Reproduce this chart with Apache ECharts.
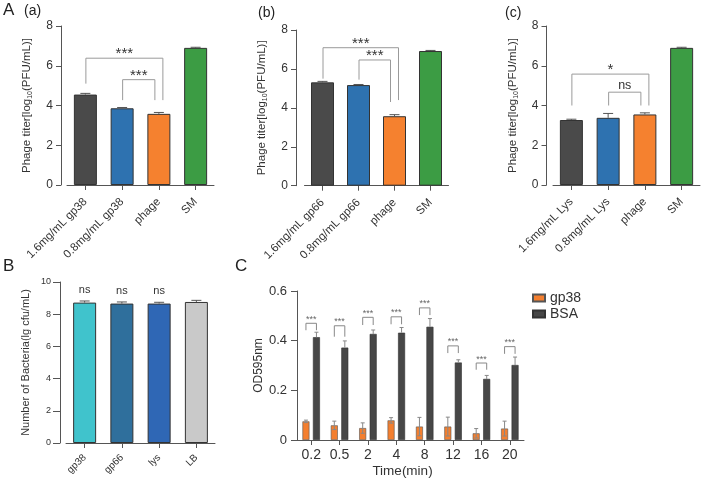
<!DOCTYPE html>
<html>
<head>
<meta charset="utf-8">
<script src="https://cdn.jsdelivr.net/npm/echarts@6/dist/echarts.min.js"></script>
<style>
  html, body { margin: 0; padding: 0; background: #fff; }
  #chart { width: 708px; height: 479px; }
</style>
</head>
<body>
<div id="chart"></div>
<script>
// ---- data ----
var catsA1 = ['1.6mg/mL gp38', '0.8mg/mL gp38', 'phage', 'SM'];
var catsA2 = ['1.6mg/mL gp66', '0.8mg/mL gp66', 'phage', 'SM'];
var catsA3 = ['1.6mg/mL Lys', '0.8mg/mL Lys', 'phage', 'SM'];
var titerA1 = [4.55, 3.86, 3.58, 6.90];
var errA1 = [0.06, 0.04, 0.07, 0.03];
var titerA2 = [5.31, 5.17, 3.57, 6.92];
var errA2 = [0.05, 0.03, 0.08, 0.03];
var titerA3 = [3.27, 3.38, 3.55, 6.90];
var errA3 = [0.04, 0.22, 0.08, 0.03];
// brackets: [fromCat, toCat, top, leftLegEnd, rightLegEnd]
var sigA1 = [[0, 2, 6.38, 5.10, 4.27], [1, 2, 5.30, 4.27, 4.27]];
var sigA2 = [[0, 2, 7.09, 5.50, 4.40], [1, 2, 6.46, 5.45, 4.30]];
var sigA3 = [[0, 2, 5.58, 4.00, 4.00], [1, 2, 4.67, 4.00, 4.00]];
var sigA1Text = ['***', '***'];
var sigA2Text = ['***', '***'];
var sigA3Text = ['*', 'ns'];

var catsB = ['gp38', 'gp66', 'lys', 'LB'];
var countB = [8.72, 8.66, 8.66, 8.76];
var errB = [0.10, 0.10, 0.08, 0.10];
var sigB = ['ns', 'ns', 'ns', ''];

var timesC = ['0.2', '0.5', '2', '4', '8', '12', '16', '20'];
var gp38C = [0.075, 0.059, 0.048, 0.079, 0.054, 0.054, 0.027, 0.046];
var gp38Err = [0.005, 0.017, 0.021, 0.011, 0.037, 0.038, 0.019, 0.030];
var bsaC = [0.414, 0.372, 0.427, 0.432, 0.456, 0.312, 0.246, 0.302];
var bsaErr = [0.020, 0.027, 0.016, 0.021, 0.033, 0.011, 0.014, 0.032];
var sigCTop = [0.470, 0.460, 0.494, 0.496, 0.532, 0.379, 0.310, 0.376];
var sigCLow = [0.442, 0.416, 0.463, 0.466, 0.503, 0.350, 0.283, 0.347];
var sigCText = ['***', '***', '***', '***', '***', '***', '***', '***'];

// ---- styles ----
var FONT = '"Liberation Sans", Arial, sans-serif';
var AXIS = '#555';
var TEXT = '#333';
var BRACKET = '#9a9a9a';
var colorsA = ['#4a4a4a', '#2e72b0', '#f5812f', '#3c9c44'];
var colorsB = ['#40c3cc', '#2f6f9c', '#2f67b5', '#c9c9c9'];
var C_BAR_W = 7, C_GAP = 3.5;

var chart = echarts.init(document.getElementById('chart'));

function tuple(vals, errs) {
  return vals.map(function (v, i) { return [i, v, errs[i]]; });
}

function errRender(cap, dx, both, color) {
  return function (params, api) {
    var x = api.value(0), v = api.value(1), e = api.value(2);
    var hi = api.coord([x, v + e]);
    var mid = api.coord([x, v]);
    var lo = api.coord([x, v - e]);
    var cx = hi[0] + dx;
    var st = { stroke: color, lineWidth: 1 };
    var kids = [
      { type: 'line', shape: { x1: cx, y1: both ? lo[1] : mid[1], x2: cx, y2: hi[1] }, style: st },
      { type: 'line', shape: { x1: cx - cap, y1: hi[1], x2: cx + cap, y2: hi[1] }, style: st }
    ];
    if (both) {
      kids.push({ type: 'line', shape: { x1: cx - cap, y1: lo[1], x2: cx + cap, y2: lo[1] }, style: st });
    }
    return { type: 'group', children: kids };
  };
}

function textEl(x, y, text, size, color) {
  return {
    type: 'text', x: x, y: y,
    style: {
      text: text, fontSize: size, fontFamily: FONT, fill: color,
      align: 'center', verticalAlign: 'middle',
      textAlign: 'center', textVerticalAlign: 'middle'
    }
  };
}

function bracketRender(labels, spread) {
  return function (params, api) {
    var i = params.dataIndex;
    var l = api.coord([api.value(0), api.value(3)]);
    var r = api.coord([api.value(1), api.value(4)]);
    var top = api.coord([api.value(0), api.value(2)])[1];
    var x1 = l[0] + 0.5;
    var x2 = r[0] + (i === 0 ? spread : -spread);
    var stars = labels[i].indexOf('*') === 0;
    return {
      type: 'group',
      children: [
        { type: 'polyline', shape: { points: [[x1, l[1]], [x1, top], [x2, top], [x2, r[1]]] },
          style: { stroke: BRACKET, lineWidth: 1, fill: null } },
        textEl((x1 + x2) / 2, top - (stars ? 4 : 7), labels[i], stars ? 15 : 12.5, TEXT)
      ]
    };
  };
}

function bracketCRender(params, api) {
  var i = params.dataIndex;
  var off = (C_BAR_W + C_GAP) / 2;
  var top = api.coord([i, api.value(1)]);
  var low = api.coord([i, api.value(2)]);
  var x1 = top[0] - off, x2 = top[0] + off;
  return {
    type: 'group',
    children: [
      { type: 'polyline', shape: { points: [[x1, low[1]], [x1, top[1]], [x2, top[1]], [x2, low[1]]] },
        style: { stroke: '#888', lineWidth: 1, fill: null } },
      textEl((x1 + x2) / 2, top[1] - 4, sigCText[i], 9, '#666')
    ]
  };
}

var axisLineStyle = { show: true, lineStyle: { color: AXIS, width: 1 } };

function catAxis(grid, data, size, rotate, margin) {
  return {
    type: 'category', gridIndex: grid, data: data,
    axisLine: axisLineStyle,
    axisTick: { show: true, alignWithLabel: true, length: 5, lineStyle: { color: AXIS } },
    axisLabel: { interval: 0, rotate: rotate, fontSize: size, color: TEXT, margin: margin, fontFamily: FONT }
  };
}

function valAxis(grid, max, interval, offset, name, size, nameSize, gap, tickLen, margin) {
  return {
    type: 'value', gridIndex: grid, min: 0, max: max, interval: interval, offset: offset,
    name: name, nameLocation: 'middle', nameGap: gap,
    nameTextStyle: {
      fontSize: nameSize, color: TEXT, fontFamily: FONT,
      rich: {
        n: { fontSize: nameSize, color: TEXT, fontFamily: FONT, lineHeight: 13, verticalAlign: 'top' },
        s: { fontSize: 7, color: TEXT, fontFamily: FONT, lineHeight: 8, padding: [5, 0, 0, 0], verticalAlign: 'bottom' }
      }
    },
    splitLine: { show: false },
    axisLine: axisLineStyle,
    axisTick: { show: true, length: tickLen, lineStyle: { color: AXIS } },
    axisLabel: { fontSize: size, color: TEXT, margin: margin, fontFamily: FONT }
  };
}

var titerName = '{n|Phage titer[log}{s|10}{n|(PFU/mL)]}';

function barA(idx, vals) {
  return {
    type: 'bar', xAxisIndex: idx, yAxisIndex: idx, barWidth: 23,
    data: vals.map(function (v, i) {
      return { value: v, itemStyle: { color: colorsA[i] } };
    }),
    itemStyle: { borderColor: '#333', borderWidth: 1 }
  };
}

function errSeries(idx, data, cap, dx, both, color) {
  return {
    type: 'custom', xAxisIndex: idx, yAxisIndex: idx, z: 5,
    renderItem: errRender(cap, dx, both, color), data: data
  };
}

function bracketSeries(idx, data, labels) {
  return {
    type: 'custom', xAxisIndex: idx, yAxisIndex: idx, z: 6,
    renderItem: bracketRender(labels, 4), data: data
  };
}

var option = {
  animation: false,
  textStyle: { fontFamily: FONT },
  grid: [
    { left: 67, top: 26, width: 147, height: 159 },
    { left: 304.5, top: 30, width: 144, height: 155.7 },
    { left: 553, top: 26, width: 147, height: 159 },
    { left: 66, top: 282, width: 149, height: 161 },
    { left: 297, top: 291, width: 227, height: 150 }
  ],
  xAxis: [
    catAxis(0, catsA1, 11.5, 45, 15),
    catAxis(1, catsA2, 11.5, 45, 15),
    catAxis(2, catsA3, 11.5, 45, 15),
    catAxis(3, catsB, 10, 45, 13),
    (function () {
      var ax = catAxis(4, timesC, 14, 0, 8);
      ax.name = 'Time(min)';
      ax.nameLocation = 'middle';
      ax.nameGap = 24;
      ax.nameTextStyle = { fontSize: 13.5, color: TEXT, fontFamily: FONT, padding: [0, 16, 0, 0] };
      return ax;
    })()
  ],
  yAxis: [
    valAxis(0, 8, 2, 6, titerName, 12, 11.5, 27, 5, 8),
    valAxis(1, 8, 2, 8.5, titerName, 12, 11.5, 27, 5, 8),
    valAxis(2, 8, 2, 6.5, titerName, 12, 11.5, 27, 5, 8),
    valAxis(3, 10, 2, 6, '{n|Number of Bacteria(lg cfu/mL)}', 9, 11, 27, 7, 9),
    valAxis(4, 0.6, 0.2, 0, '{n|OD595nm}', 13, 12, 28, 6, 10)
  ],
  legend: {
    orient: 'vertical', left: 527, top: 286, itemWidth: 12, itemHeight: 7, itemGap: 2,
    icon: 'rect',
    textStyle: { fontSize: 14, color: TEXT, fontFamily: FONT },
    data: ['gp38', 'BSA']
  },
  graphic: [
    { type: 'text', left: 3, top: 2, style: { text: 'A', fontSize: 17, fill: '#222', fontFamily: FONT } },
    { type: 'text', left: 24, top: 4, style: { text: '(a)', fontSize: 14, fill: '#222', fontFamily: FONT } },
    { type: 'text', left: 258, top: 6, style: { text: '(b)', fontSize: 14, fill: '#222', fontFamily: FONT } },
    { type: 'text', left: 505, top: 6, style: { text: '(c)', fontSize: 14, fill: '#222', fontFamily: FONT } },
    { type: 'text', left: 3, top: 258, style: { text: 'B', fontSize: 17, fill: '#222', fontFamily: FONT } },
    { type: 'text', left: 235, top: 258, style: { text: 'C', fontSize: 17, fill: '#222', fontFamily: FONT } }
  ],
  series: [
    barA(0, titerA1), errSeries(0, tuple(titerA1, errA1), 5, 0, false, '#555'), bracketSeries(0, sigA1, sigA1Text),
    barA(1, titerA2), errSeries(1, tuple(titerA2, errA2), 5, 0, false, '#555'), bracketSeries(1, sigA2, sigA2Text),
    barA(2, titerA3), errSeries(2, tuple(titerA3, errA3), 5, 0, false, '#555'), bracketSeries(2, sigA3, sigA3Text),
    {
      type: 'bar', xAxisIndex: 3, yAxisIndex: 3, barWidth: 23,
      data: countB.map(function (v, i) { return { value: v, itemStyle: { color: colorsB[i] } }; }),
      itemStyle: { borderColor: '#333', borderWidth: 1 },
      label: {
        show: true, position: 'top', distance: 7, fontSize: 11, color: TEXT, fontFamily: FONT,
        formatter: function (p) { return sigB[p.dataIndex]; }
      }
    },
    errSeries(3, tuple(countB, errB), 5, 0, false, '#555'),
    {
      name: 'gp38', type: 'bar', xAxisIndex: 4, yAxisIndex: 4, barWidth: C_BAR_W, barGap: '50%',
      data: gp38C, itemStyle: { color: '#f47f2f', borderColor: '#555', borderWidth: 0.6 }
    },
    {
      name: 'BSA', type: 'bar', xAxisIndex: 4, yAxisIndex: 4, barWidth: C_BAR_W, barGap: '50%',
      data: bsaC, itemStyle: { color: '#474747', borderColor: '#333', borderWidth: 0.6 }
    },
    errSeries(4, tuple(gp38C, gp38Err), 2, -(C_BAR_W + C_GAP) / 2, true, '#888'),
    errSeries(4, tuple(bsaC, bsaErr), 2, (C_BAR_W + C_GAP) / 2, false, '#888'),
    {
      type: 'custom', xAxisIndex: 4, yAxisIndex: 4, z: 6, renderItem: bracketCRender,
      data: sigCTop.map(function (t, i) { return [i, t, sigCLow[i]]; })
    }
  ]
};

chart.setOption(option);
</script>
</body>
</html>
